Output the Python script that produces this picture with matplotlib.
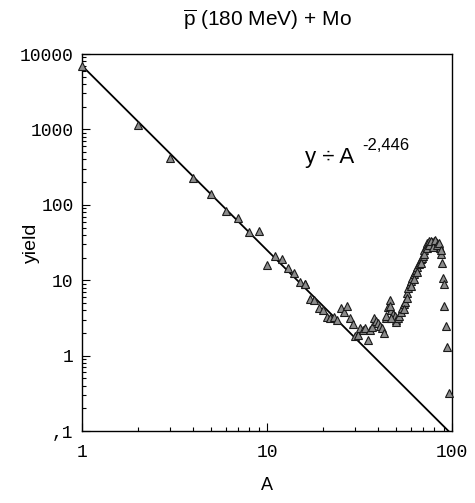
import numpy as np
import matplotlib
matplotlib.use("Agg")
import matplotlib.pyplot as plt
from matplotlib.ticker import LogLocator, FixedLocator, FixedFormatter, NullFormatter

FIGURE_SIZE = (4.75, 5.03)

a_vals = [1, 2, 3, 4, 5, 6, 7, 8, 9, 10, 11, 12, 13, 14, 15, 16, 16, 17, 18, 19, 20,
          21, 22, 23, 24, 25, 26, 27, 28, 29, 30, 31, 32, 33, 34, 35, 36, 37, 38, 39,
          40, 41, 42, 43, 44, 45, 46, 47, 48, 49, 50, 50, 51, 52, 53, 54, 55, 56, 57,
          58, 59, 60, 61, 62, 63, 64, 65, 66, 67, 68, 69, 70, 71, 72, 73, 74, 75, 76,
          77, 78, 79, 80, 81, 82, 83, 84, 85, 86, 87, 88, 89, 90.5, 90.5, 93, 94.5, 96]
yield_vals = [7000, 1150, 420, 225, 138, 83, 67, 44, 45, 16, 21, 19, 14.5, 12.6, 9.6, 9.0, 8.8,
              5.7, 5.5, 4.3, 4.0, 3.3, 3.2, 3.3, 3.0, 4.3, 3.8, 4.5, 3.2, 2.6, 1.8, 1.9,
              2.3, 2.2, 2.3, 1.6, 2.2, 2.4, 3.2, 2.9, 2.7, 2.5, 2.3, 2.0, 3.2, 4.4, 5.5,
              4.0, 3.6, 3.4, 3.0, 2.8, 3.2, 3.4, 3.8, 4.3, 4.8, 5.1, 6.8, 7.8, 8.8, 9.8,
              10.7, 12, 13, 13.8, 15, 16.5, 17.4, 19, 20, 21, 25, 28, 31, 30, 33, 31, 29,
              32, 31, 33, 30, 32, 31, 28, 29, 27, 22, 17, 10.8, 8.8, 4.5, 2.5, 1.3, 0.32]

# second isotope branch that thickens the heavy-fragment hump
a_extra = [44, 46, 47, 55, 57, 60, 62, 65, 68, 71, 73, 75, 77, 79, 81, 83, 85, 87]
yield_extra = [3.4, 4.6, 3.2, 4.2, 5.8, 8.5, 10.5, 13, 17, 22, 27, 29, 33, 28, 34, 29, 31, 25]

# power-law fit y ~ A^-2.446
fit_const = 7000.0
fit_exp = -2.446
fit_a = [1, 100]

y_ticks = [0.1, 1, 10, 100, 1000, 10000]
y_ticklabels = [",1", "1", "10", "100", "1000", "10000"]
x_ticks = [1, 10, 100]
x_ticklabels = ["1", "10", "100"]

plt.rcParams["font.family"] = ["Liberation Sans", "DejaVu Sans"]
plt.rcParams["mathtext.fontset"] = "custom"
plt.rcParams["mathtext.rm"] = "Liberation Sans"

fig = plt.figure(figsize=FIGURE_SIZE, dpi=100)
ax = fig.add_axes([0.1726, 0.1431, 0.779, 0.7495])

fit_x = np.array(fit_a, dtype=float)
ax.plot(fit_x, fit_const * fit_x ** fit_exp, color="black", lw=1.3, zorder=2)
for xs, ys in ((a_vals, yield_vals), (a_extra, yield_extra)):
    ax.plot(xs, ys, linestyle="none", marker="^", markersize=6,
            markerfacecolor="0.55", markeredgecolor="0.1", markeredgewidth=0.8,
            zorder=3, clip_on=False)

ax.set_xscale("log")
ax.set_yscale("log")
ax.set_xlim(1, 100)
ax.set_ylim(0.1, 10000)

ax.xaxis.set_major_locator(FixedLocator(x_ticks))
ax.xaxis.set_major_formatter(FixedFormatter(x_ticklabels))
ax.yaxis.set_major_locator(FixedLocator(y_ticks))
ax.yaxis.set_major_formatter(FixedFormatter(y_ticklabels))
ax.xaxis.set_minor_locator(LogLocator(base=10, subs=np.arange(2, 10), numticks=20))
ax.yaxis.set_minor_locator(LogLocator(base=10, subs=np.arange(2, 10), numticks=20))
ax.xaxis.set_minor_formatter(NullFormatter())
ax.yaxis.set_minor_formatter(NullFormatter())

ax.tick_params(which="both", direction="in", top=False, right=False, width=0.8)
ax.tick_params(which="major", length=6)
ax.tick_params(which="minor", length=3)
ax.tick_params(axis="x", which="major", pad=9)
ax.tick_params(axis="y", which="major", pad=6)
for lab in ax.get_xticklabels() + ax.get_yticklabels():
    lab.set_family(["Liberation Mono", "DejaVu Sans Mono"])
    lab.set_fontsize(13)

for spine in ax.spines.values():
    spine.set_linewidth(1.0)

ax.set_title(r"$\overline{\mathrm{p}}$ (180 MeV) + Mo", fontsize=15, pad=20)
ax.set_xlabel("A", fontsize=13, labelpad=12)
ax.set_ylabel("yield", fontsize=14)
ax.yaxis.set_label_coords(-0.113, 0.5)

ax.text(0.603, 0.711, "y \u00f7 A", transform=ax.transAxes, fontsize=16,
        ha="left", va="baseline")
ax.text(0.757, 0.745, "-2,446", transform=ax.transAxes, fontsize=12,
        ha="left", va="baseline")

fig.savefig("out.png", dpi=100)
